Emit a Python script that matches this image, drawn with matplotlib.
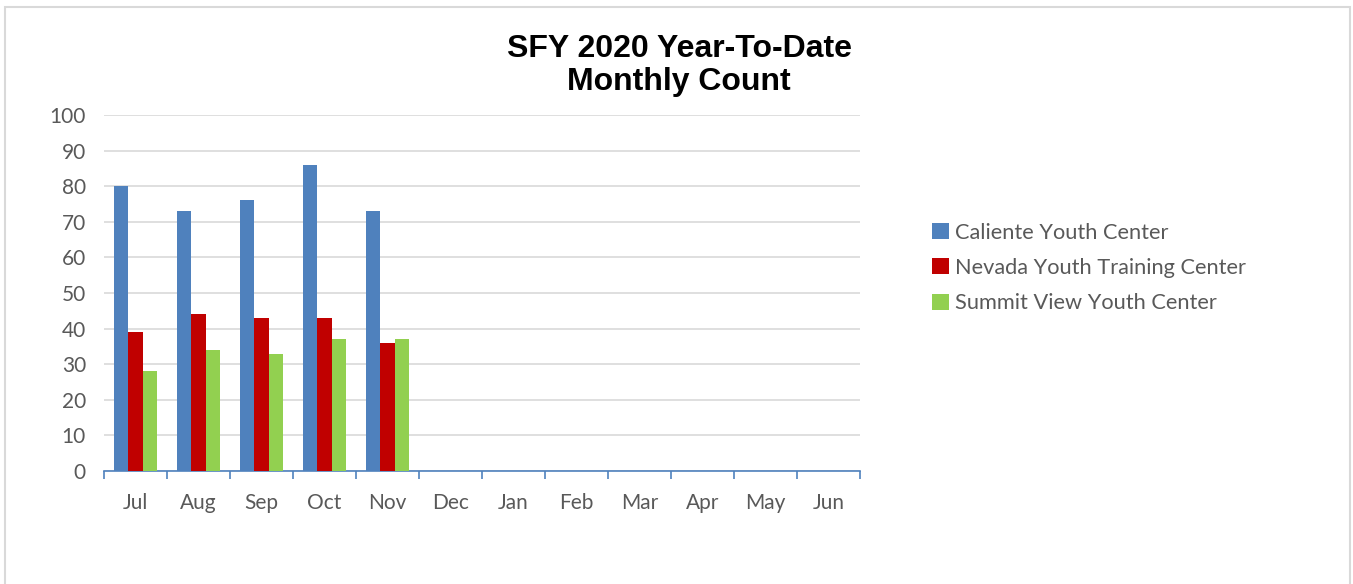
import numpy as np
import matplotlib
import matplotlib.pyplot as plt
from matplotlib.patches import Rectangle

matplotlib.use('Agg')

months = ['Jul', 'Aug', 'Sep', 'Oct', 'Nov', 'Dec',
          'Jan', 'Feb', 'Mar', 'Apr', 'May', 'Jun']
caliente = [80, 73, 76, 86, 73]
nevada = [39, 44, 43, 43, 36]
summit = [28, 34, 33, 37, 37]

series = [
    ('Caliente Youth Center', caliente, '#4F81BD'),
    ('Nevada Youth Training Center', nevada, '#C00000'),
    ('Summit View Youth Center', summit, '#92D050'),
]

txt_color = '#595959'
plt.rcParams['font.family'] = ['Lato', 'DejaVu Sans']

fig = plt.figure(figsize=(13.53, 5.84), dpi=100)
ax = fig.add_axes([0.0769, 0.1935, 0.5588, 0.6096])

# outer chart border
fig.patches.append(Rectangle((0.004, -0.01), 0.994, 0.998,
                             transform=fig.transFigure, fill=False,
                             edgecolor='#D9D9D9', linewidth=1.5))

bw = 0.232
for i, (name, vals, col) in enumerate(series):
    x = np.arange(len(vals)) + (i - 1) * bw
    ax.bar(x, vals, width=bw, color=col, label=name, zorder=3)

ax.set_xlim(-0.5, len(months) - 0.5)
ax.set_ylim(0, 100)
ax.set_yticks(range(0, 101, 10))
ax.set_xticks(range(len(months)))
ax.set_xticklabels(months)
ax.set_xticks(np.arange(-0.5, len(months), 1), minor=True)

ax.grid(axis='y', color='#D9D9D9', linewidth=1.2, zorder=0)
for s in ['top', 'right', 'left']:
    ax.spines[s].set_visible(False)
ax.spines['bottom'].set_color('#4F81BD')
ax.spines['bottom'].set_linewidth(1.2)

ax.tick_params(axis='y', length=0, labelsize=15, labelcolor=txt_color, pad=13)
ax.tick_params(axis='x', which='major', length=0, labelsize=15,
               labelcolor=txt_color, pad=16)
ax.tick_params(axis='x', which='minor', length=6, color='#4F81BD', width=1.2)

fig.text(0.502, 0.888, 'SFY 2020 Year-To-Date\nMonthly Count',
         ha='center', va='center', fontsize=23, fontweight='bold',
         family=['Liberation Sans', 'DejaVu Sans'], linespacing=1.12)

ax.legend(loc='center left', bbox_to_anchor=(0.681, 0.541),
          bbox_transform=fig.transFigure, frameon=False, fontsize=15.7,
          labelcolor=txt_color, handlelength=0.75, handleheight=0.75,
          handletextpad=0.3, labelspacing=0.7, borderpad=0)

plt.savefig('out.png', dpi=100)
plt.close()
